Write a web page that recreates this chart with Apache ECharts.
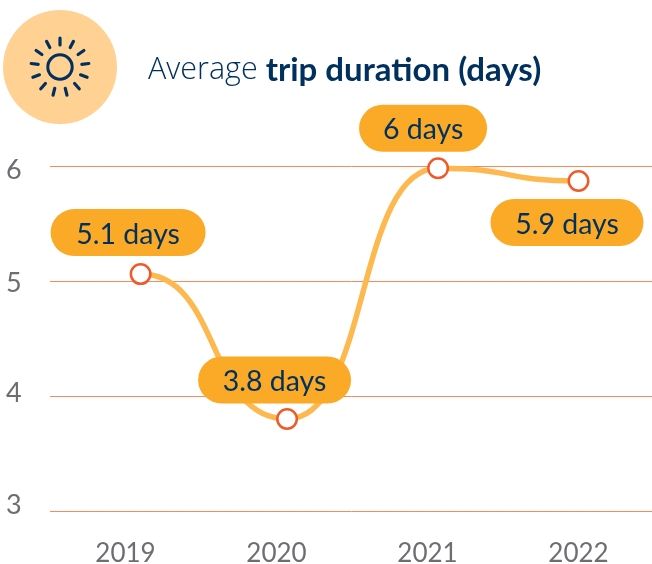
<!DOCTYPE html>
<html><head><meta charset="utf-8">
<style>html,body{margin:0;padding:0;background:#fff}#c{width:652px;height:564px}</style>
<script src="https://cdn.jsdelivr.net/npm/echarts@6/dist/echarts.min.js"></script>
</head><body><div id="c"></div>
<script>
const years = ['2019','2020','2021','2022'];
const pointYears = [2019.1, 2020.07, 2021.07, 2022.0];
const durations = [5.06, 3.8, 5.98, 5.87];
const pillTexts = ['5.1 days','3.8 days','6 days','5.9 days'];
const pillOffsets = [[-12.5,-41.5],[-12.5,-39],[-15,-40],[-11.5,41.5]];
const pillWidths = [155,153,128,153];

const navy = '#00305E';
const grey = '#6D6E71';
const chart = echarts.init(document.getElementById('c'));
const rays = [];
for (let i = 0; i < 13; i++) {
  const a = i * 2 * Math.PI / 13;
  rays.push({type:'line', silent:true, z:10,
    shape:{x1:60+22*Math.sin(a), y1:67-22*Math.cos(a), x2:60+29*Math.sin(a), y2:67-29*Math.cos(a)},
    style:{stroke:navy, lineWidth:3.2, lineCap:'round'}});
}
const points = pointYears.map((x,i)=>[x,durations[i]]);
// a tiny level stub under each end marker so the smoothed curve leaves and enters it level
const stub = 0.008;
const last = points[points.length-1];
const linePoints = [[points[0][0]-stub,points[0][1]], ...points, [last[0]+stub,last[1]]];
const tickStyle = (padding) => ({color:grey,fontFamily:'Lato',fontSize:27,padding});
chart.setOption({
  animation:false,
  grid:{left:50,width:604,top:166,height:345,containLabel:false,outerBoundsMode:'none'},
  graphic:[
    {type:'circle', silent:true, z:9, shape:{cx:60,cy:67,r:57}, style:{fill:'#FFD193'}},
    {type:'circle', silent:true, z:10, shape:{cx:60,cy:67,r:12.2}, style:{fill:'none',stroke:navy,lineWidth:3}},
    ...rays
  ],
  title:{left:148,top:54,padding:0,
    text:'{a|Average }{b|trip duration (days)}',
    textStyle:{rich:{
      a:{fontFamily:'Open Sans',fontWeight:300,fontSize:30.5,color:navy},
      b:{fontFamily:'Lato',fontWeight:700,fontSize:33,color:navy}
    }}},
  xAxis:[
    {type:'category',data:years,boundaryGap:true,
     axisLine:{show:false},axisTick:{show:false},splitLine:{show:false},
     axisLabel:{color:grey,fontFamily:'Lato',fontSize:26,margin:30}},
    {type:'value',min:2018.5,max:2022.5,show:false,splitLine:{show:false}}
  ],
  yAxis:{type:'value',min:3,max:6,interval:1,
    axisLine:{show:false},axisTick:{show:false},
    splitLine:{lineStyle:{color:'#F58B5E',width:1}},
    axisLabel:{color:grey,fontFamily:'Lato',fontSize:27,align:'left',margin:44,
      formatter:(v)=>'{t'+v+'|'+v+'}',
      rich:{t6:tickStyle([8,0,0,0]),t5:tickStyle([4,0,0,0]),t4:tickStyle([0,0,6,0]),t3:tickStyle([0,0,12,0])}}},
  series:[{
    type:'line',xAxisIndex:1,smooth:0.55,smoothMonotone:'x',clip:false,z:2,
    lineStyle:{color:'#FDB94F',width:5.5},showSymbol:false,symbol:'none',
    data:linePoints
  },{
    type:'scatter',xAxisIndex:1,clip:false,z:5,
    symbol:'circle',symbolSize:19.5,
    itemStyle:{color:'#fff',borderColor:'#EF5A2A',borderWidth:2.5,opacity:1},
    data:points.map((p,i)=>({
      value:p,
      label:{show:true,position:'inside',offset:pillOffsets[i],
        formatter:'{t|'+pillTexts[i]+'}',
        backgroundColor:'#FBAA27',borderRadius:24,padding:[2,0,3,0],
        rich:{t:{width:pillWidths[i],height:42,lineHeight:42,padding:[5,0,0,0],align:'center',verticalAlign:'middle',
          color:navy,fontFamily:'Lato',fontSize:28.5}}}
    }))
  }]
});
</script></body></html>
